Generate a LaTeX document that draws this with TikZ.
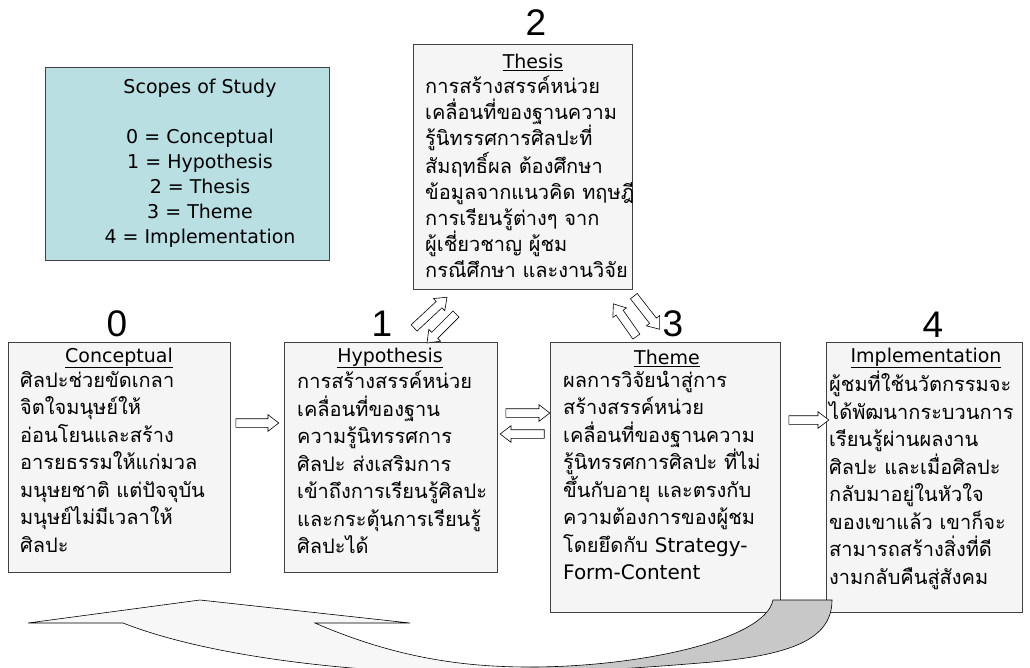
\documentclass[tikz,border=0pt]{standalone}
\usepackage{fontspec}
\setmainfont{DejaVu Sans}
\newfontfamily\thai[Script=Thai]{Loma}
\newfontfamily\arialf{Liberation Sans}
\usetikzlibrary{shapes.arrows}
\definecolor{boxfill}{HTML}{F5F5F5}
\definecolor{scopefill}{HTML}{B9DFE3}
\definecolor{boxline}{HTML}{404040}
\definecolor{backgray}{HTML}{C8C8C8}
\definecolor{lightfill}{HTML}{F7F7F7}
\begin{document}
\begin{tikzpicture}[x=1pt,y=-1pt,
  box/.style={draw=boxline, fill=boxfill, line width=0.8pt, anchor=north west, inner sep=0pt},
  head/.style={font=\fontsize{19}{22}\selectfont, inner sep=0pt},
  body/.style={font=\thai\fontsize{20}{27.5}\selectfont, align=left, anchor=north west, inner sep=0pt},
  num/.style={font=\arialf\fontsize{37}{40}\selectfont, inner sep=0pt},
  blockarrow/.style={single arrow, draw=black, fill=white, inner xsep=0pt, inner ysep=4pt,
     line width=0.6pt, single arrow head extend=4pt, single arrow head indent=0pt,
     single arrow tip angle=75}]
\useasboundingbox (0,0) rectangle (1030,667);
\fill[white] (0,0) rectangle (1030,667);

% scope box
\node[box, fill=scopefill, minimum width=284pt, minimum height=193pt] (sc) at (45,67) {};
\node[font=\fontsize{19}{25}\selectfont, align=center, inner sep=0pt, anchor=north] (sctext) at (200,79)
  {Scopes of Study\\[25pt]0 = Conceptual\\1 = Hypothesis\\2 = Thesis\\3 = Theme\\4 = Implementation};

% boxes
\node[box, minimum width=222pt, minimum height=230pt] (b0) at (8,342) {};
\node[box, minimum width=213pt, minimum height=230pt] (b1) at (284,342) {};
\node[box, minimum width=219pt, minimum height=245pt] (b2) at (413,44) {};
\node[box, minimum width=230pt, minimum height=270pt] (b3) at (550,342) {};
\node[box, minimum width=196pt, minimum height=270pt] (b4) at (826,342) {};

% numbers
\node[num] (n0) at (117,324) {0};
\node[num] (n1) at (382,324) {1};
\node[num] (n2) at (536,23) {2};
\node[num] (n3) at (673,324) {3};
\node[num] (n4) at (933,325) {4};

% headings
\node[head] (h0) at (119,358) {\underline{Conceptual}};
\node[head] (h1) at (390,358) {\underline{Hypothesis}};
\node[head] (h2) at (533,62) {\underline{Thesis}};
\node[head] (h3) at (667,358) {\underline{Theme}};
\node[head] (h4) at (926,358) {\underline{Implementation}};

% bodies
\node[body] (t0) at (20,371) {ศิลปะช่วยขัดเกลา\\จิตใจมนุษย์ให้\\อ่อนโยนและสร้าง\\อารยธรรมให้แก่มวล\\มนุษยชาติ แต่ปัจจุบัน\\มนุษย์ไม่มีเวลาให้\\ศิลปะ};
\node[body] (t1) at (297,371) {การสร้างสรรค์หน่วย\\เคลื่อนที่ของฐาน\\ความรู้นิทรรศการ\\ศิลปะ ส่งเสริมการ\\เข้าถึงการเรียนรู้ศิลปะ\\และกระตุ้นการเรียนรู้\\ศิลปะได้};
\node[body, font=\thai\fontsize{20}{26}\selectfont] (t2) at (425,76) {การสร้างสรรค์หน่วย\\เคลื่อนที่ของฐานความ\\รู้นิทรรศการศิลปะที่\\สัมฤทธิ์ผล ต้องศึกษา\\ข้อมูลจากแนวคิด ทฤษฎี\\การเรียนรู้ต่างๆ  จาก\\ผู้เชี่ยวชาญ ผู้ชม\\กรณีศึกษา และงานวิจัย};
\node[body] (t3) at (563,371) {ผลการวิจัยนำสู่การ\\สร้างสรรค์หน่วย\\เคลื่อนที่ของฐานความ\\รู้นิทรรศการศิลปะ ที่ไม่\\ขึ้นกับอายุ และตรงกับ\\ความต้องการของผู้ชม\\โดยยึดกับ {\rmfamily Strategy-}\\{\rmfamily Form-Content}};
\node[body] (t4) at (829,371) {ผู้ชมที่ใช้นวัตกรรมจะ\\ได้พัฒนากระบวนการ\\เรียนรู้ผ่านผลงาน\\ศิลปะ และเมื่อศิลปะ\\กลับมาอยู่ในหัวใจ\\ของเขาแล้ว เขาก็จะ\\สามารถสร้างสิ่งที่ดี\\งามกลับคืนสู่สังคม};

% block arrows
\node[blockarrow, minimum height=43pt] (a01) at (254.5,423) {};
\node[blockarrow, minimum height=44pt] (a13) at (525,413) {};
\node[blockarrow, minimum height=44pt, rotate=180] (a31) at (525,434) {};
\node[blockarrow, minimum height=40pt] (a34) at (806,420) {};
\node[blockarrow, minimum height=45pt, rotate=43] (a12) at (428.5,314.5) {};
\node[blockarrow, minimum height=41pt, rotate=-135] (a21) at (443.5,326.5) {};
\node[blockarrow, minimum height=40pt, rotate=125] (a32) at (626.5,322.5) {};
\node[blockarrow, minimum height=42pt, rotate=-52] (a23) at (645,310.5) {};

% big curved return arrow
\begin{scope}
\clip (0,0) rectangle (1030,667);
\fill[lightfill] (28,623) -- (200,600) -- (410,623) -- (315,623)
  .. controls (400,660) and (470,667) .. (530,667)
  .. controls (640,667) and (765,640) .. (773,600)
  -- (832,600) .. controls (832,640) and (790,656) .. (700,663)
  .. controls (640,668) and (590,671) .. (530,672)
  .. controls (420,678) and (230,665) .. (123,623) -- cycle;
\fill[backgray] (530,667) .. controls (640,667) and (765,640) .. (773,600)
  -- (832,600) .. controls (832,640) and (790,656) .. (700,663)
  .. controls (640,668) and (590,671) .. (530,672) -- cycle;
\draw[line width=0.6pt] (123,623) -- (28,623) -- (200,600) -- (410,623) -- (315,623)
  .. controls (400,660) and (470,667) .. (530,667)
  .. controls (640,667) and (765,640) .. (773,600)
  -- (832,600) .. controls (832,640) and (790,656) .. (700,663)
  .. controls (640,668) and (590,671) .. (530,672)
  .. controls (420,678) and (230,665) .. (123,623);
\end{scope}
\end{tikzpicture}
\end{document}
